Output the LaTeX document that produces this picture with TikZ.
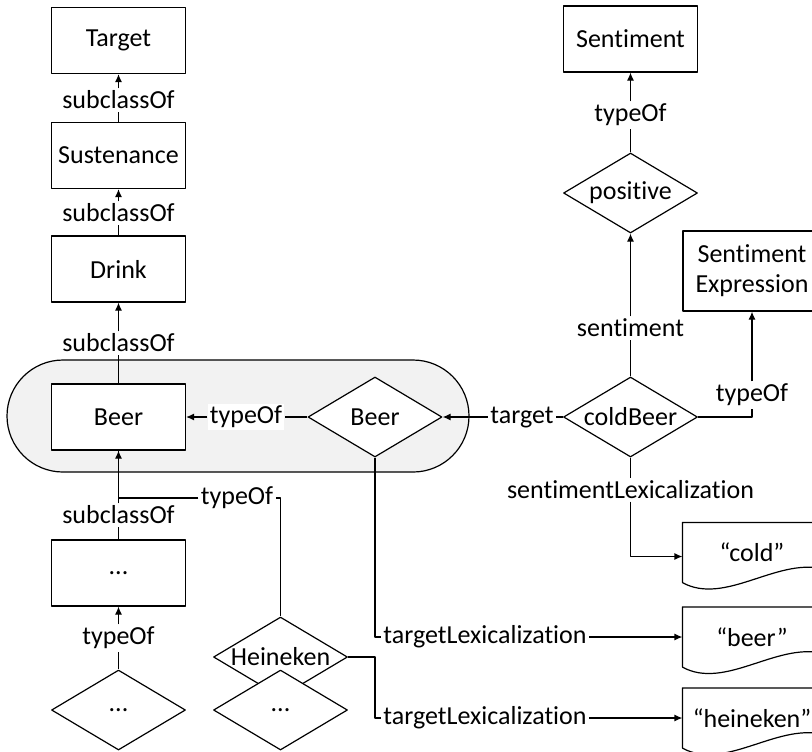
\documentclass[tikz,border=0pt]{standalone}
\usepackage{fontspec}
\setmainfont{Carlito}[Ligatures={NoCommon,NoContextual},Contextuals=NoAlternate]
\usetikzlibrary{shapes.geometric,arrows.meta}

\begin{document}
\begin{tikzpicture}[x=0.5pt,y=-0.5pt,line join=round,line width=0.6pt,
  >={Latex[length=4pt,width=3.5pt]},
  every node/.style={inner sep=1pt,font=\fontsize{13}{15}\selectfont},
  cls/.style={draw,fill=white,minimum width=67pt,minimum height=33pt},
  inst/.style={draw,fill=white,diamond,aspect=1.7,inner sep=0pt,minimum width=67pt,minimum height=40pt},
  doc/.style={minimum width=69pt,minimum height=29.5pt},
  rel/.style={fill=white}]
  \useasboundingbox (0,0) rectangle (812,751);
  % group around the beer class and its instance
  \node[draw,fill=gray!10,rounded corners=28pt,minimum width=231pt,minimum height=56pt] (grp) at (238,416) {};
  % classes
  \node[cls] (target) at (118.5,40.5) {Target};
  \node[cls] (sustenance) at (118.5,155.5) {Sustenance};
  \node[cls] (drink) at (118.5,269) {Drink};
  \node[cls] (beercls) at (118.5,417) {Beer};
  \node[cls] (morecls) at (118.5,573) {...};
  \node[cls] (sentiment) at (630.5,39) {Sentiment};
  \node[cls,minimum width=69pt,minimum height=40pt,align=center] (sentexpr) at (752,271) {Sentiment\\Expression};
  % instances
  \node[inst] (beer) at (375,417) {Beer};
  \node[inst] (coldbeer) at (630.5,417) {coldBeer};
  \node[inst] (positive) at (630.5,193) {positive};
  \node[inst] (heineken) at (280.5,657) {Heineken};
  \node[inst] (moreinst) at (280.5,710) {...};
  \node[inst] (moreinstb) at (118.5,710) {...};
  % lexicalizations
  \node[doc] (cold) at (752,552.5) {“cold”};
  \node[doc] (beerlex) at (752,637) {“beer”};
  \node[doc] (heinekenlex) at (752,718) {“heineken”};
  \foreach \n in {cold,beerlex,heinekenlex} {
    \draw (\n.south west) -- (\n.north west) -- (\n.north east) -- ([yshift=7pt]\n.south east)
      .. controls ([xshift=-23pt,yshift=12pt]\n.south east) and ([xshift=21pt,yshift=-11.5pt]\n.south west) .. (\n.south west);
  }
  % relation labels
  \node[rel] (sub1) at (118.5,100) {subclassOf};
  \node[rel] (sub2) at (118.5,213) {subclassOf};
  \node[rel] (sub3) at (118.5,343) {subclassOf};
  \node[rel] (sub4) at (118.5,515) {subclassOf};
  \node[rel] (typedots) at (118.5,638) {typeOf};
  \node[rel] (typebeer) at (246,417) {typeOf};
  \node[rel] (typehei) at (237,498) {typeOf};
  \node[rel] (targetlbl) at (522,417) {target};
  \node[rel] (typesent) at (630.5,115) {typeOf};
  \node[rel] (sentlbl) at (630.5,328) {sentiment};
  \node[rel] (typeexpr) at (752,395) {typeOf};
  \node[rel] (sentlex) at (630.5,490) {sentimentLexicalization};
  \node[rel] (tlexa) at (485,637) {targetLexicalization};
  \node[rel] (tlexb) at (485,718) {targetLexicalization};
  % connectors
  \draw[->] (sub1) -- (target);
  \draw (sustenance) -- (sub1);
  \draw[->] (sub2) -- (sustenance);
  \draw (drink) -- (sub2);
  \draw[->] (sub3) -- (drink);
  \draw (beercls) -- (sub3);
  \draw (morecls) -- (sub4);
  \draw (sub4) -- (beercls);
  \draw (moreinstb) -- (typedots);
  \draw[->] (typedots) -- (morecls);
  \draw (beer) -- (typebeer);
  \draw[->] (typebeer) -- (beercls);
  \draw (heineken.north) |- (typehei.east);
  \draw[->] (typehei.west) -| (beercls.south);
  \draw (coldbeer) -- (targetlbl);
  \draw[->] (targetlbl) -- (beer);
  \draw (positive) -- (typesent);
  \draw[->] (typesent) -- (sentiment);
  \draw (coldbeer) -- (sentlbl);
  \draw[->] (sentlbl) -- (positive);
  \draw (coldbeer.east) -| (typeexpr.south);
  \draw[->] (typeexpr) -- (sentexpr);
  \draw (coldbeer) -- (sentlex);
  \draw[->] (sentlex.south) |- ([yshift=-2pt]cold.west);
  \draw (beer.south) |- (tlexa.west);
  \draw[->] (tlexa) -- (beerlex);
  \draw (heineken.east) -| (beer.south |- tlexb.west) -- (tlexb.west);
  \draw[->] (tlexb) -- (heinekenlex);
\end{tikzpicture}
\end{document}
